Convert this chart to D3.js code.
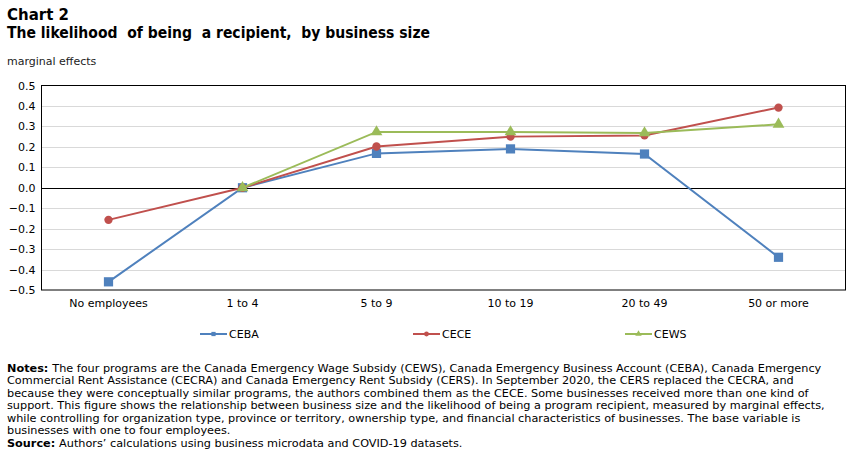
<!DOCTYPE html>
<html>
<head>
<meta charset="utf-8">
<script src="https://cdn.jsdelivr.net/npm/d3@7"></script>
<style>
  body { margin: 0; background: #fff; }
  svg text { font-family: Verdana, "DejaVu Sans", sans-serif; fill: #000; }
</style>
</head>
<body>
<svg id="chart"></svg>
<script>
let categories = ["No employees", "1 to 4", "5 to 9", "10 to 19", "20 to 49", "50 or more"];
let ceba = [-0.46, 0, 0.168, 0.19, 0.165, -0.34];
let cece = [-0.157, 0, 0.202, 0.25, 0.256, 0.392];
let cews = [null, 0, 0.273, 0.273, 0.268, 0.31];
let yTicks = [-0.5, -0.4, -0.3, -0.2, -0.1, 0, 0.1, 0.2, 0.3, 0.4, 0.5];

let series = [
    { name: "CEBA", values: ceba, color: "#4f81bd", shape: d3.symbolSquare },
    { name: "CECE", values: cece, color: "#c0504d", shape: d3.symbolCircle },
    { name: "CEWS", values: cews, color: "#9bbb59", shape: d3.symbolTriangle }
];

let notes = [
    "The four programs are the Canada Emergency Wage Subsidy (CEWS), Canada Emergency Business Account (CEBA), Canada Emergency",
    "Commercial Rent Assistance (CECRA) and Canada Emergency Rent Subsidy (CERS). In September 2020, the CERS replaced the CECRA, and",
    "because they were conceptually similar programs, the authors combined them as the CECE. Some businesses received more than one kind of",
    "support. This figure shows the relationship between business size and the likelihood of being a program recipient, measured by marginal effects,",
    "while controlling for organization type, province or territory, ownership type, and financial characteristics of businesses. The base variable is",
    "businesses with one to four employees."
];

function createChart() {
    let w = 851, h = 455;
    let svg = d3.select("#chart").attr("width", w).attr("height", h);

    // titles
    svg.append("text").attr("x", 7).attr("y", 20)
        .style("font-size", "15px").style("font-weight", "bold").text("Chart 2");
    svg.append("text").attr("x", 7).attr("y", 38)
        .style("font-size", "15px").style("font-weight", "bold")
        .style("white-space", "pre")
        .attr("textLength", 423).attr("lengthAdjust", "spacingAndGlyphs")
        .text("The likelihood  of being  a recipient,  by business size");
    svg.append("text").attr("x", 7).attr("y", 65)
        .style("font-size", "11px").style("fill", "#222").text("marginal effects");

    let left = 41.5, right = 845.5, top = 85.5, bottom = 290;

    let x = d3.scaleBand().domain(categories).range([left, right]);
    let y = d3.scaleLinear().domain([-0.5, 0.5]).range([bottom, top]);

    // gridlines
    svg.append("g").selectAll("line")
        .data(yTicks.filter(t => t !== 0 && t !== 0.5 && t !== -0.5))
        .enter().append("line")
        .attr("x1", left).attr("x2", right)
        .attr("y1", d => Math.round(y(d)) + 0.5).attr("y2", d => Math.round(y(d)) + 0.5)
        .attr("stroke", "#d9d9d9").attr("stroke-width", 1);

    // y axis labels
    let yAxis = d3.axisLeft(y).tickValues(yTicks).tickSize(0).tickPadding(6)
        .tickFormat(d3.format(".1f"));
    let ga = svg.append("g").attr("transform", `translate(${left},0)`).call(yAxis);
    ga.select(".domain").remove();
    ga.selectAll("text").style("font-size", "11px")
        .style("font-family", 'Verdana, "DejaVu Sans", sans-serif');

    // x axis labels
    let xAxis = d3.axisBottom(x).tickSize(0).tickPadding(9);
    let gx = svg.append("g").attr("transform", `translate(0,${bottom})`).call(xAxis);
    gx.select(".domain").remove();
    gx.selectAll("text").style("font-size", "11px")
        .style("font-family", 'Verdana, "DejaVu Sans", sans-serif');

    // zero line and border
    svg.append("line").attr("x1", left).attr("x2", right)
        .attr("y1", Math.round(y(0)) + 0.5).attr("y2", Math.round(y(0)) + 0.5)
        .attr("stroke", "#000");
    svg.append("rect").attr("x", left).attr("y", top)
        .attr("width", right - left).attr("height", bottom - top)
        .attr("fill", "none").attr("stroke", "#000");

    let cx = (d, i) => x(categories[i]) + x.bandwidth() / 2;
    let line = d3.line().defined(d => d !== null).x(cx).y(d => y(d));

    series.forEach(s => {
        svg.append("path").datum(s.values)
            .attr("d", line).attr("fill", "none")
            .attr("stroke", s.color).attr("stroke-width", 2);
        let sz = s.shape === d3.symbolCircle ? 55 : (s.shape === d3.symbolSquare ? 85 : 60);
        svg.append("g").selectAll("path")
            .data(s.values.map((v, i) => ({ v, i })).filter(d => d.v !== null))
            .enter().append("path")
            .attr("d", d3.symbol().type(s.shape).size(sz))
            .attr("transform", d => `translate(${cx(d.v, d.i)},${y(d.v)})`)
            .attr("fill", s.color);
    });

    // legend
    let legendX = [200, 413, 625];
    series.forEach((s, i) => {
        let g = svg.append("g").attr("transform", `translate(${legendX[i]},334)`);
        g.append("line").attr("x1", 0).attr("x2", 27).attr("stroke", s.color).attr("stroke-width", 2);
        g.append("path").attr("d", d3.symbol().type(s.shape).size(18))
            .attr("transform", "translate(13.5,0)").attr("fill", s.color);
        g.append("text").attr("x", 29).attr("y", 4).style("font-size", "11px").text(s.name);
    });

    // notes
    let noteY = 371.5, lh = 12.5;
    notes.forEach((n, i) => {
        let t = svg.append("text").attr("x", 7).attr("y", noteY + i * lh).style("font-size", "11.25px");
        if (i === 0) {
            t.append("tspan").style("font-weight", "bold").text("Notes: ");
        }
        t.append("tspan").text(n);
    });
    let src = svg.append("text").attr("x", 7).attr("y", noteY + 6 * lh).style("font-size", "11.25px");
    src.append("tspan").style("font-weight", "bold").text("Source: ");
    src.append("tspan").text("Authors\u2019 calculations using business microdata and COVID-19 datasets.");
}

createChart();
</script>
</body>
</html>
